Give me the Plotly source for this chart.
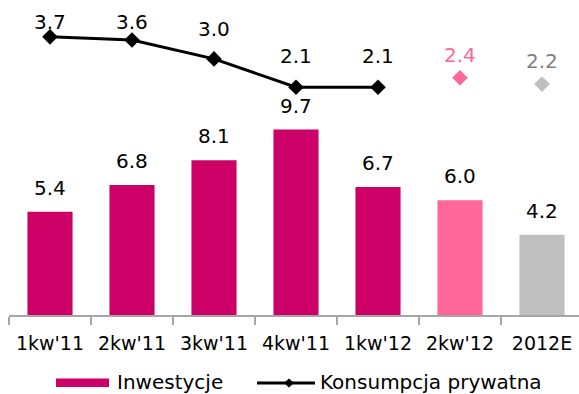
import plotly.graph_objects as go

# Quarterly growth, % y/y
categories = ["1kw'11", "2kw'11", "3kw'11", "4kw'11", "1kw'12", "2kw'12", "2012E"]
investment = [5.4, 6.8, 8.1, 9.7, 6.7, 6.0, 4.2]
consumption = [3.7, 3.6, 3.0, 2.1, 2.1]
consumption_forecast = [2.4, 2.2]
forecast_categories = ["2kw'12", "2012E"]

MAGENTA = "#CC0066"
PINK = "#FF6699"
GREY = "#BFBFBF"
GREY_TEXT = "#7F7F7F"
FONT = "DejaVu Sans"

bar_colors = [MAGENTA] * 5 + [PINK, GREY]

W, H = 579, 394
M_L, M_R, M_T, M_B = 9, 0, 0, 79
PLOT_W = W - M_L - M_R
PLOT_H = H - M_T - M_B

fig = go.Figure()

fig.add_trace(go.Bar(
    x=categories, y=investment, name="Inwestycje",
    marker=dict(color=bar_colors, line=dict(width=0)),
    width=0.55, showlegend=False, yaxis="y",
))

fig.add_trace(go.Scatter(
    x=categories[:len(consumption)], y=consumption, name="Konsumpcja prywatna",
    mode="lines+markers", yaxis="y2",
    line=dict(color="black", width=3),
    marker=dict(symbol="diamond", size=12, color="black"),
    showlegend=False,
))

fig.add_trace(go.Scatter(
    x=forecast_categories, y=consumption_forecast, mode="markers", yaxis="y2",
    marker=dict(symbol="diamond", size=12, color=[PINK, GREY]),
    showlegend=False,
))

annotations = []
# value labels above the bars
for c, v in zip(categories, investment):
    annotations.append(dict(
        x=c, y=v, xref="x", yref="y", text=f"{v:.1f}", showarrow=False,
        yanchor="bottom", yshift=10, font=dict(family=FONT, size=20, color="black"),
    ))

# value labels above the consumption markers
line_label_gap = [6, 9, 21, 22, 22]
for c, v, g in zip(categories, consumption, line_label_gap):
    annotations.append(dict(
        x=c, y=v, xref="x", yref="y2", text=f"{v:.1f}", showarrow=False,
        yanchor="bottom", yshift=g - 5, font=dict(family=FONT, size=20, color="black"),
    ))
for c, v, col in zip(forecast_categories, consumption_forecast, [PINK, GREY_TEXT]):
    annotations.append(dict(
        x=c, y=v, xref="x", yref="y2", text=f"{v:.1f}", showarrow=False,
        yanchor="bottom", yshift=9, font=dict(family=FONT, size=20, color=col),
    ))


# legend, drawn below the axis (paper coordinates span the plot area)
def px(x):
    return (x - M_L) / PLOT_W


def py(y):
    return (M_T + PLOT_H - y) / PLOT_H


legend_y = 383
shapes = [
    dict(type="rect", xref="paper", yref="paper",
         x0=px(56), x1=px(109), y0=py(legend_y - 4.5), y1=py(legend_y + 4),
         fillcolor=MAGENTA, line=dict(width=0)),
    dict(type="line", xref="paper", yref="paper",
         x0=px(257), x1=px(315), y0=py(legend_y), y1=py(legend_y),
         line=dict(color="black", width=3)),
    dict(type="path", xref="paper", yref="paper",
         path=(f"M {px(289)},{py(legend_y - 4.5)} L {px(294)},{py(legend_y)} "
               f"L {px(289)},{py(legend_y + 4.5)} L {px(284)},{py(legend_y)} Z"),
         fillcolor="black", line=dict(width=0)),
]
annotations.append(dict(
    x=px(116), y=py(382.5), xref="paper", yref="paper", text="Inwestycje",
    showarrow=False, xanchor="left", yanchor="middle", borderpad=0,
    font=dict(family=FONT, size=20, color="black"),
))
annotations.append(dict(
    x=px(319), y=py(382.5), xref="paper", yref="paper", text="Konsumpcja prywatna",
    showarrow=False, xanchor="left", yanchor="middle", borderpad=0,
    font=dict(family=FONT, size=20, color="black"),
))

fig.update_layout(
    width=W, height=H,
    margin=dict(l=M_L, r=M_R, t=M_T, b=M_B),
    paper_bgcolor="white", plot_bgcolor="white",
    bargap=0.45,
    xaxis=dict(
        type="category", categoryorder="array", categoryarray=categories,
        range=[-0.5, -0.5 + PLOT_W / 82],
        tickson="boundaries", ticks="outside", ticklen=8, tickcolor="#A6A6A6", tickwidth=2,
        showline=True, linecolor="#A6A6A6", linewidth=2,
        showgrid=False, zeroline=False, ticklabelstandoff=10,
        tickfont=dict(family=FONT, size=19, color="black"),
    ),
    yaxis=dict(range=[0, 16.48], visible=False, showgrid=False, zeroline=False),
    yaxis2=dict(range=[-5.13, 4.87], overlaying="y", visible=False,
                showgrid=False, zeroline=False),
    shapes=shapes,
    annotations=annotations,
)

fig.write_html("out.html")
